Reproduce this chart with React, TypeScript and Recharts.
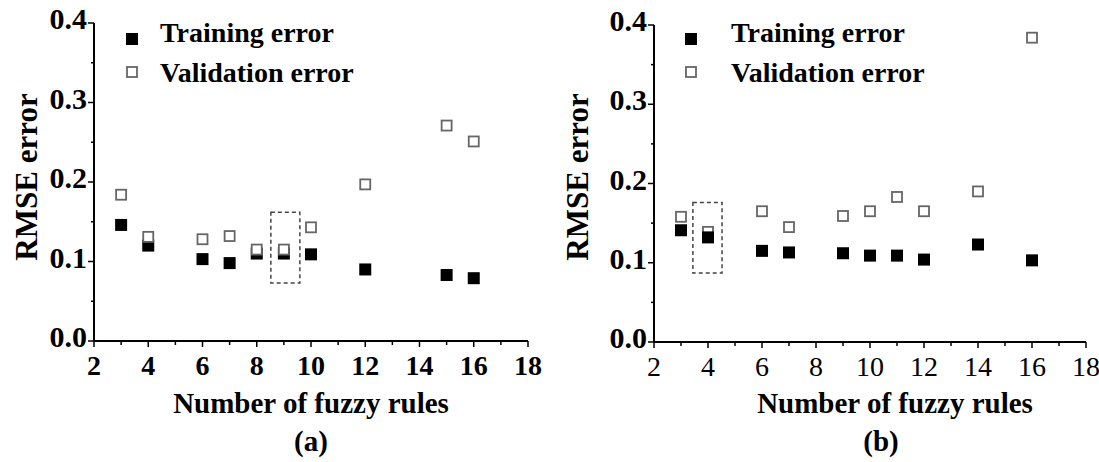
import React from 'react';
import { ScatterChart, Scatter, XAxis, YAxis, ReferenceArea, Legend, Label } from 'recharts';

const FONT = "'Liberation Serif', 'Times New Roman', serif";

// Panel (a): rule counts with training / validation RMSE
const rulesA = [3, 4, 6, 7, 8, 9, 10, 12, 15, 16];
const trainA = [0.146, 0.12, 0.103, 0.098, 0.11, 0.11, 0.109, 0.09, 0.083, 0.079];
const validA = [0.184, 0.131, 0.128, 0.132, 0.115, 0.115, 0.143, 0.197, 0.271, 0.251];

// Panel (b)
const rulesB = [3, 4, 6, 7, 9, 10, 11, 12, 14, 16];
const trainB = [0.141, 0.132, 0.115, 0.113, 0.112, 0.109, 0.109, 0.104, 0.123, 0.103];
const validB = [0.158, 0.139, 0.165, 0.145, 0.159, 0.165, 0.183, 0.165, 0.19, 0.384];

// highlighted (chosen) configuration boxes: [x1, x2, y1, y2]
const boxA = [8.52, 9.59, 0.073, 0.162];
const boxB = [3.44, 4.52, 0.087, 0.176];

const xTicks = [2, 3, 4, 5, 6, 7, 8, 9, 10, 11, 12, 13, 14, 15, 16, 17, 18];
const yTicks = [0, 0.05, 0.1, 0.15, 0.2, 0.25, 0.3, 0.35, 0.4];

const toPoints = (xs: number[], ys: number[]) => xs.map((x, i) => ({ x, y: ys[i] }));

const FilledSquare = (p: any) => (
  <rect x={p.cx - 6} y={p.cy - 6} width={12} height={12} fill="#000" />
);
const OpenSquare = (p: any) => (
  <rect x={p.cx - 5} y={p.cy - 5} width={10} height={10} fill="#fff" stroke="#666" strokeWidth={1.8} />
);

const YTick = (props: any) => {
  const { x, y, payload } = props;
  const v = payload.value;
  const major = Math.abs(v * 10 - Math.round(v * 10)) < 1e-6;
  return (
    <g>
      <line x1={x - (major ? 6 : 3)} x2={x} y1={y} y2={y} stroke="#000" strokeWidth={1.5} />
      {major && (
        <text x={x - 7} y={y + 6} textAnchor="end" fontFamily={FONT} fontSize={30} fontWeight="bold" fill="#000">
          {v.toFixed(1)}
        </text>
      )}
    </g>
  );
};

const makeXTick = (bold: boolean) => (props: any) => {
  const { x, y, payload } = props;
  const major = payload.value % 2 === 0;
  return (
    <g>
      <line x1={x} x2={x} y1={y} y2={y + (major ? 6 : 4)} stroke="#000" strokeWidth={1.5} />
      {major && (
        <text x={x} y={y + 34} textAnchor="middle" fontFamily={FONT} fontSize={28}
          fontWeight={bold ? 'bold' : 'normal'} fill="#000">
          {payload.value}
        </text>
      )}
    </g>
  );
};

const LegendBox = ({ textDx }: { textDx: number }) => (
  <svg width={260} height={95} style={{ display: 'block' }}>
    <rect x={2} y={33} width={12} height={12} fill="#000" />
    <rect x={3} y={67} width={10} height={10} fill="#fff" stroke="#666" strokeWidth={1.8} />
    <text x={textDx} y={42} fontFamily={FONT} fontSize={28} fontWeight="bold" fill="#000">Training error</text>
    <text x={textDx} y={82} fontFamily={FONT} fontSize={28} fontWeight="bold" fill="#000">Validation error</text>
  </svg>
);

type PanelProps = {
  rules: number[];
  train: number[];
  valid: number[];
  box: number[];
  letter: string;
  boldX: boolean;
  trainOnTop: boolean;
  left: number;
  width: number;
  plotLeft: number;
  plotRight: number;
  plotTop: number;
  plotBottom: number;
  legendLeft: number;
  legendTextDx: number;
  yTitleX: number;
  titleDx: number;
  letterDx: number;
};

const Panel = (p: PanelProps) => {
  const train = toPoints(p.rules, p.train);
  const valid = toPoints(p.rules, p.valid);
  const xAxisHeight = 40;
  const trainSeries = (
    <Scatter key="train" name="Training error" data={train} shape={FilledSquare} isAnimationActive={false} />
  );
  const validSeries = (
    <Scatter key="valid" name="Validation error" data={valid} shape={OpenSquare} isAnimationActive={false} />
  );
  return (
    <div style={{ position: 'absolute', left: p.left, top: 0 }}>
      <ScatterChart
        width={p.width}
        height={462}
        margin={{ top: p.plotTop, right: p.width - p.plotRight, bottom: 462 - p.plotBottom - xAxisHeight, left: 0 }}
      >
        <XAxis
          type="number"
          dataKey="x"
          domain={[2, 18]}
          ticks={xTicks}
          interval={0}
          height={xAxisHeight}
          tickSize={0}
          tickMargin={0}
          tickLine={false}
          axisLine={{ stroke: '#000', strokeWidth: 2 }}
          tick={makeXTick(p.boldX)}
        >
          <Label
            content={(lp: any) => {
              const vb = lp.viewBox;
              const cx = vb.x + vb.width / 2;
              return (
                <g>
                  <text x={cx + p.titleDx} y={413} textAnchor="middle" fontFamily={FONT} fontSize={29} fontWeight="bold" fill="#000">
                    Number of fuzzy rules
                  </text>
                  <text x={cx + p.letterDx} y={451} textAnchor="middle" fontFamily={FONT} fontSize={29} fontWeight="bold" fill="#000">
                    {p.letter}
                  </text>
                </g>
              );
            }}
          />
        </XAxis>
        <YAxis
          type="number"
          dataKey="y"
          domain={[0, 0.4]}
          ticks={yTicks}
          interval={0}
          width={p.plotLeft}
          tickSize={0}
          tickMargin={0}
          tickLine={false}
          axisLine={{ stroke: '#000', strokeWidth: 2 }}
          tick={YTick}
        >
          <Label
            content={() => (
              <text transform={`translate(${p.yTitleX}, 177) rotate(-90)`} textAnchor="middle" fontFamily={FONT} fontSize={31} fontWeight="bold" fill="#000">
                RMSE error
              </text>
            )}
          />
        </YAxis>
        <ReferenceArea
          x1={p.box[0]}
          x2={p.box[1]}
          y1={p.box[2]}
          y2={p.box[3]}
          fill="none"
          stroke="#444"
          strokeWidth={1.5}
          strokeDasharray="4 3"
        />
        {p.trainOnTop ? [validSeries, trainSeries] : [trainSeries, validSeries]}
        <Legend
          layout="vertical"
          align="center"
          verticalAlign="middle"
          wrapperStyle={{ left: p.legendLeft, top: 0, width: 260 }}
          content={() => <LegendBox textDx={p.legendTextDx} />}
        />
      </ScatterChart>
    </div>
  );
};

export default function App() {
  return (
    <div style={{ position: 'absolute', left: 0, top: 0, width: 1099, height: 462, background: '#fff', overflow: 'hidden' }}>
      <Panel
        rules={rulesA} train={trainA} valid={validA} box={boxA} letter="(a)" boldX trainOnTop={false}
        left={0} width={550} plotLeft={94} plotRight={528} plotTop={23} plotBottom={341}
        legendLeft={124} legendTextDx={36} yTitleX={37} titleDx={0} letterDx={0}
      />
      <Panel
        rules={rulesB} train={trainB} valid={validB} box={boxB} letter="(b)" boldX={false} trainOnTop
        left={550} width={549} plotLeft={104} plotRight={536} plotTop={25} plotBottom={342}
        legendLeft={133} legendTextDx={48} yTitleX={38} titleDx={25} letterDx={11}
      />
    </div>
  );
}
